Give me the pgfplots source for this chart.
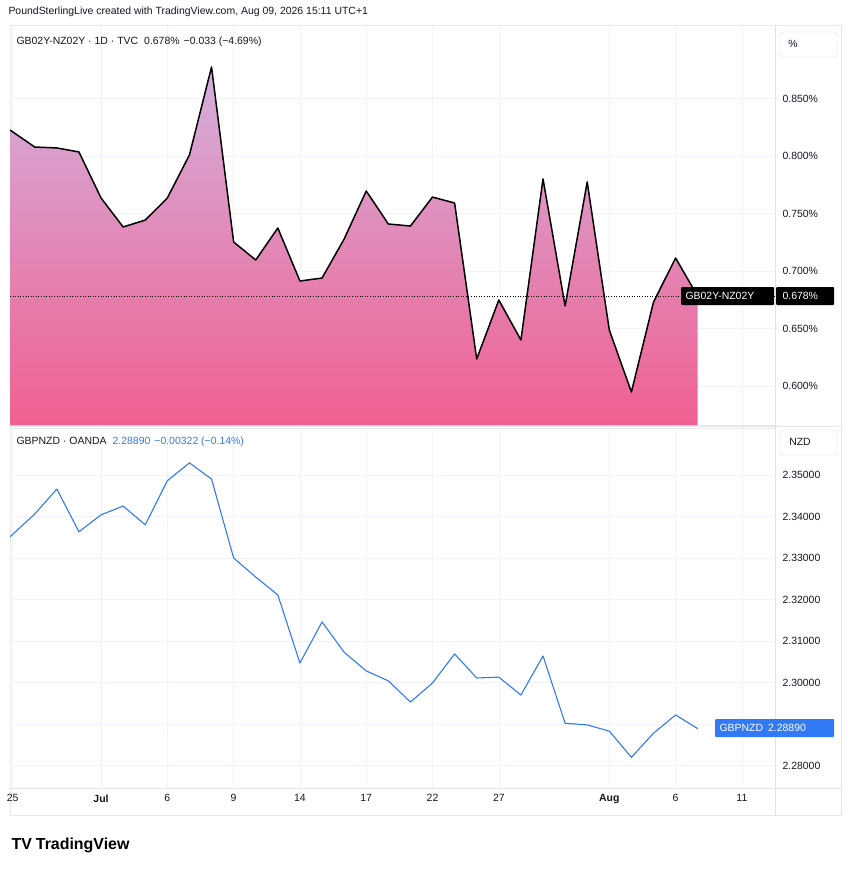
\documentclass[border=0pt]{standalone}
\usepackage{pgfplots}
\pgfplotsset{compat=1.18}
\usepackage{fontspec}
\setmainfont{Liberation Sans}
\definecolor{lblue}{HTML}{3179F5}
\definecolor{gridc}{HTML}{F0F3FA}
\definecolor{txt}{HTML}{131722}
\definecolor{topc}{RGB}{212,176,220}
\definecolor{botc}{RGB}{240,96,146}
\begin{document}
\begin{tikzpicture}[x=1bp,y=-1bp,font=\fontsize{10.5}{12}\selectfont\color{txt}]
\fill[white] (0,0) rectangle (852,875);
\draw[gridc!60!gray!40] (10,25) rectangle (841,815);
\pgfplotsset{tvax/.style={at={(10bp,-#1bp)},anchor=south west,scale only axis,width=765bp,
  xmin=-4.12,xmax=30.5,axis line style={draw=gridc!50!gray!30},
  grid=major,grid style={gridc},major tick length=0pt,
  xtick={-4,0,3,6,9,12,15,18,23,26,29},
  yticklabel pos=right,
  yticklabel style={font=\fontsize{10.5}{12}\selectfont\color{txt},xshift=4bp},
  /pgf/number format/assume math mode=true}}
\begin{axis}[tvax=425,height=400bp,ymin=0.5661,ymax=0.9139,
  ytick={0.6,0.65,0.7,0.75,0.8,0.85},
  yticklabels={0.600\%,0.650\%,0.700\%,0.750\%,0.800\%,0.850\%},
  xticklabels={}]
\addplot[draw=none,top color=topc,bottom color=botc] coordinates {
(-4.12,0.8226)(-3,0.8078)(-2,0.8070)(-1,0.8035)(0,0.7635)(1,0.7383)(2,0.7443)(3,0.7635)(4,0.8009)(5,0.8774)
(6,0.7252)(7,0.7096)(8,0.7374)(9,0.6913)(10,0.6939)(11,0.7278)(12,0.7696)(13,0.7409)(14,0.7391)(15,0.7643)
(16,0.7591)(17,0.6235)(18,0.6748)(19,0.6400)(20,0.7800)(21,0.6696)(22,0.7774)(23,0.6487)(24,0.5948)(25,0.6730)
(26,0.7113)(27,0.678)(27,0.5661)(-4.12,0.5661)} --cycle;
\addplot[black,line width=1.5pt,line join=round] coordinates {
(-4.12,0.8226)(-3,0.8078)(-2,0.8070)(-1,0.8035)(0,0.7635)(1,0.7383)(2,0.7443)(3,0.7635)(4,0.8009)(5,0.8774)
(6,0.7252)(7,0.7096)(8,0.7374)(9,0.6913)(10,0.6939)(11,0.7278)(12,0.7696)(13,0.7409)(14,0.7391)(15,0.7643)
(16,0.7591)(17,0.6235)(18,0.6748)(19,0.6400)(20,0.7800)(21,0.6696)(22,0.7774)(23,0.6487)(24,0.5948)(25,0.6730)
(26,0.7113)(27,0.678)};
\addplot[black,dotted,line width=0.6pt] coordinates {(-4.12,0.678)(30.5,0.678)};
\end{axis}
\begin{axis}[tvax=788,height=360bp,ymin=2.2746,ymax=2.3613,
  ytick={2.28,2.29,2.30,2.31,2.32,2.33,2.34,2.35},
  yticklabels={2.28000,,2.30000,2.31000,2.32000,2.33000,2.34000,2.35000},
  xticklabels={25,\textbf{Jul},6,9,14,17,22,27,\textbf{Aug},6,11},
  xticklabel style={font=\fontsize{10.5}{12}\selectfont\color{txt},yshift=-3bp}]
\addplot[lblue,line width=1.1pt,line join=round] coordinates {
(-4.12,2.3351)(-3,2.3406)(-2,2.3466)(-1,2.3363)(0,2.3404)(1,2.3425)(2,2.3380)(3,2.3486)(4,2.3529)(5,2.3490)
(6,2.3300)(7,2.3254)(8,2.3211)(9,2.3047)(10,2.3146)(11,2.3073)(12,2.3028)(13,2.3004)(14,2.2953)(15,2.2999)
(16,2.3069)(17,2.3011)(18,2.3013)(19,2.2970)(20,2.3064)(21,2.2902)(22,2.2898)(23,2.2883)(24,2.2820)(25,2.2878)
(26,2.2922)(27,2.2889)};
\end{axis}
\draw[gridc!50!gray!40] (10,426)--(841,426) (775,25)--(775,815) (10,788)--(841,788);
\fill[black,rounded corners=1bp] (681,287) rectangle (774,305);
\node[white,anchor=west] at (682,296) {GB02Y-NZ02Y};
\fill[black,rounded corners=1bp] (776,287) rectangle (834,305);
\node[white,anchor=west] at (779,296) {0.678\%};
\fill[lblue,rounded corners=1bp] (715,719) rectangle (834,737);
\node[white,anchor=west] at (716,728) {GBPNZD\hspace{5bp}2.28890};
\node[anchor=west] at (5,12) {PoundSterlingLive created with TradingView.com, Aug 09, 2026 15:11 UTC+1};
\node[anchor=west] at (13,42) {GB02Y-NZ02Y · 1D · TVC\hspace{6bp}0.678\%\hspace{4bp}−0.033 (−4.69\%)};
\node[anchor=west] at (13,442) {GBPNZD · OANDA\hspace{6bp}\textcolor{lblue}{2.28890\hspace{4bp}−0.00322 (−0.14\%)}};
\draw[gridc!50!gray!50,rounded corners=3bp] (780,32) rectangle (837,57);
\node at (793,44) {\%};
\draw[gridc!50!gray!50,rounded corners=3bp] (780,430) rectangle (837,455);
\node at (800,442) {NZD};
\node[anchor=west,font=\fontsize{16}{19}\selectfont\bfseries] at (8,845) {TV\hspace{4bp}TradingView};
\end{tikzpicture}
\end{document}
